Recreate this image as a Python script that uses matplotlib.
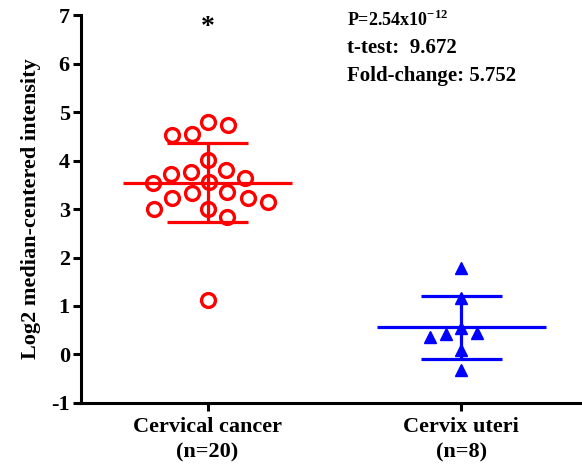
import numpy as np
import matplotlib
matplotlib.use("Agg")
import matplotlib.pyplot as plt

# ---- data ----
categories = ["Cervical cancer\n(n=20)", "Cervix uteri\n(n=8)"]
cancer_values = [4.80, 4.73, 4.55, 4.53, 4.01, 3.80, 3.77, 3.72, 3.63, 3.56,
                 3.53, 3.36, 3.34, 3.22, 3.22, 3.15, 3.01, 3.01, 2.84, 1.12]
normal_values = [1.78, 1.16, 0.54, 0.44, 0.42, 0.37, 0.09, -0.32]
y_ticks = [-1, 0, 1, 2, 3, 4, 5, 6, 7]
stats_lines = [r"P=2.54x10$^{\mathbf{-12}}$", "t-test:  9.672", "Fold-change: 5.752"]
star_label = "*"
star_value = 6.74

plt.rcParams['font.family'] = ['Liberation Serif', 'DejaVu Serif']
plt.rcParams['font.weight'] = 'bold'
plt.rcParams['mathtext.fontset'] = 'custom'
plt.rcParams['mathtext.rm'] = 'Liberation Serif:bold'
plt.rcParams['mathtext.bf'] = 'Liberation Serif:bold'

fig = plt.figure(figsize=(5.82, 4.70), dpi=100)
ax = fig.add_axes([0.139, 0.1426, 0.861, 0.8254])
ax.set_xlim(0.501, 2.475)
ax.set_ylim(-1, 7)

# pixels per data unit (for swarm layout)
ax_w_px = 0.861 * 582
ax_h_px = 0.8254 * 470
px_x = ax_w_px / (2.475 - 0.501)
px_y = ax_h_px / 8.0


def swarm(values, center, min_dist_px, step_px=1.0):
    vals = np.asarray(values, dtype=float)
    order = np.argsort(-vals)
    placed = []
    xs = np.zeros_like(vals)
    for i in order:
        yp = vals[i] * px_y
        k = 0
        while True:
            cands = [0.0] if k == 0 else [k * step_px, -k * step_px]
            ok = None
            for c in cands:
                if all((c - px) ** 2 + (yp - py) ** 2 >= min_dist_px ** 2 for px, py in placed):
                    ok = c
                    break
            if ok is not None:
                placed.append((ok, yp))
                xs[i] = center + ok / px_x
                break
            k += 1
    return xs, vals


red = "#ff0000"
blue = "#0000ff"

xr, yr = swarm(cancer_values, 1, 20)
ax.plot(xr, yr, linestyle="none", marker="o", markersize=10, markerfacecolor="none",
        markeredgecolor=red, markeredgewidth=2.4, zorder=3)
xb, yb = swarm(normal_values, 2, 16)
ax.plot(xb, yb, linestyle="none", marker="^", markersize=9, color=blue, zorder=3)

# mean +/- SD
for pos, vals, col in [(1, cancer_values, red), (2, normal_values, blue)]:
    m = np.mean(vals)
    s = np.std(vals, ddof=1)
    ax.plot([pos - 0.333, pos + 0.333], [m, m], color=col, lw=2.3, zorder=4, solid_capstyle="butt")
    ax.plot([pos, pos], [m - s, m + s], color=col, lw=2.3, zorder=4, solid_capstyle="butt")
    for v in (m - s, m + s):
        ax.plot([pos - 0.16, pos + 0.16], [v, v], color=col, lw=2.3, zorder=4, solid_capstyle="butt")

ax.text(1, star_value, star_label, ha="center", va="center", fontsize=20, fontweight="bold")

tx = 1.0 + (347 - 207.7) / px_x
ax.text(tx, 7 - (20 - 15) / px_y, stats_lines[0], ha="left", va="center", fontsize=13)
ax.text(tx, 7 - (48 - 15) / px_y, stats_lines[1], ha="left", va="center", fontsize=15)
ax.text(tx, 7 - (76 - 15) / px_y, stats_lines[2], ha="left", va="center", fontsize=15)

ax.set_xticks([1, 2])
ax.set_xticklabels(categories, fontsize=16, fontweight="bold", linespacing=1.35)
ax.set_yticks(y_ticks)
ax.set_yticklabels([str(t) for t in y_ticks], fontsize=16, fontweight="bold")
ax.set_ylabel("Log2 median-centered intensity", fontsize=16, fontweight="bold", labelpad=7)

for side in ("top", "right"):
    ax.spines[side].set_visible(False)
for side in ("left", "bottom"):
    ax.spines[side].set_linewidth(2.2)
ax.tick_params(axis="both", width=2.2, length=6, direction="out", pad=2)
ax.tick_params(axis="x", pad=4)

fig.savefig("out.png", dpi=100)
